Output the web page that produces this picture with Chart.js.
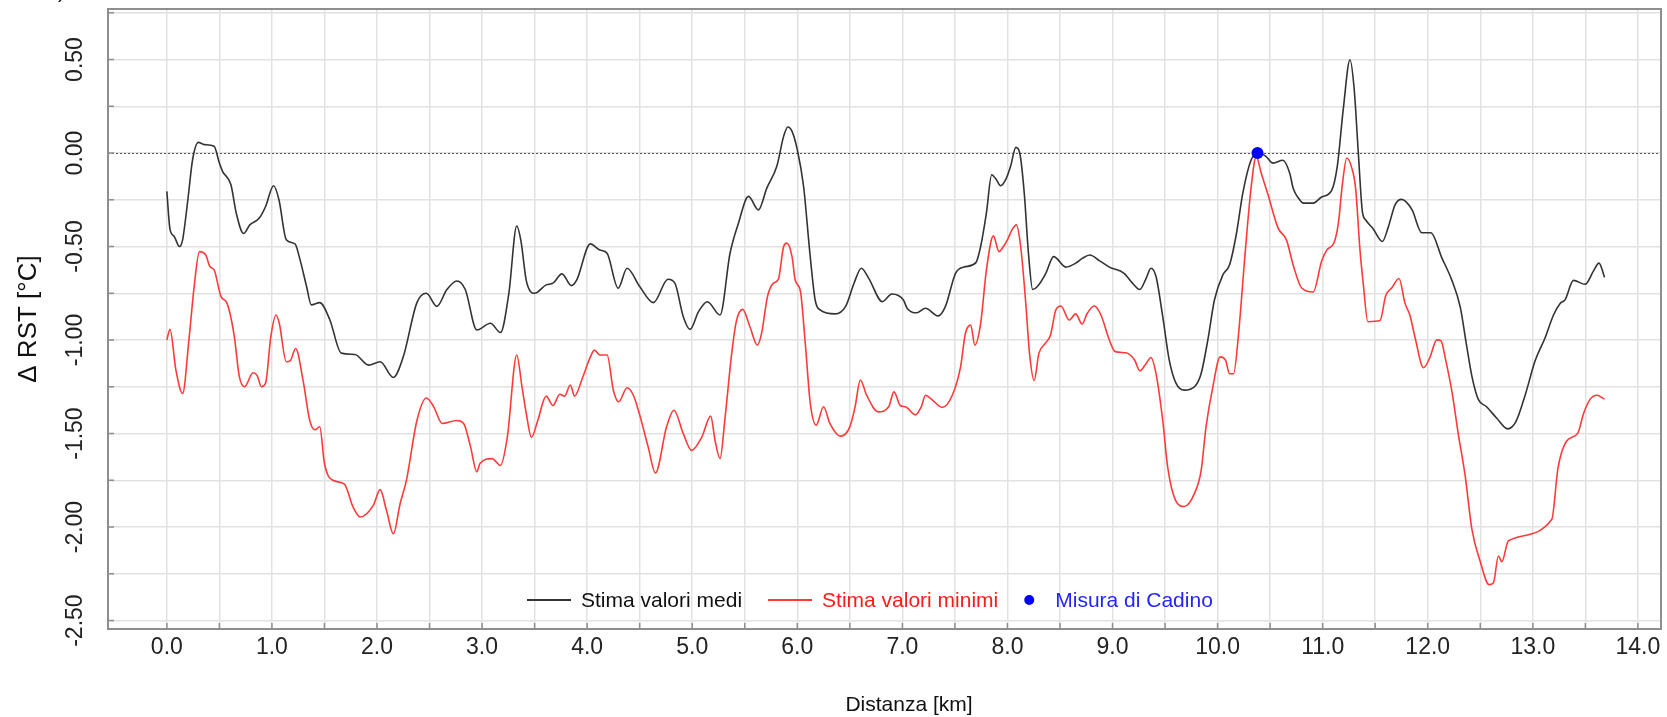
<!DOCTYPE html>
<html>
<head>
<meta charset="utf-8">
<script src="https://cdn.jsdelivr.net/npm/chart.js@4.4.0/dist/chart.umd.min.js"></script>
<style>
  html, body { margin: 0; padding: 0; background: #fff; }
  #wrap { width: 1667px; height: 717px; }
</style>
</head>
<body>
<div id="wrap"><canvas id="chart" width="1667" height="717"></canvas></div>
<script>
// distanza (km) / delta RST (°C)
const kmMedi = [
  0.00, 0.03, 0.07, 0.12, 0.15, 0.20, 0.245, 0.30, 0.357, 0.45, 0.50, 0.53, 0.61, 0.66, 0.73, 0.79, 0.88, 0.94,
  1.016, 1.067, 1.137, 1.22, 1.26, 1.33, 1.375, 1.455, 1.55, 1.66, 1.79, 1.92, 2.03, 2.156, 2.25, 2.38, 2.47,
  2.57, 2.665, 2.76, 2.84, 2.95, 3.08, 3.175, 3.255, 3.33, 3.37, 3.42, 3.46, 3.50, 3.61, 3.675, 3.76, 3.85,
  3.90, 4.03, 4.12, 4.19, 4.295, 4.38, 4.50, 4.63, 4.77, 4.835, 4.915, 4.98, 5.06, 5.144, 5.265, 5.36, 5.44,
  5.535, 5.63, 5.71, 5.805, 5.87, 5.91, 5.95, 6.00, 6.06, 6.12, 6.17, 6.22, 6.36, 6.46, 6.54, 6.61, 6.68, 6.81,
  6.90, 7.01, 7.045, 7.14, 7.22, 7.34, 7.41, 7.506, 7.586, 7.70, 7.745, 7.80, 7.85, 7.89, 7.935, 7.99, 8.03,
  8.08, 8.117, 8.16, 8.20, 8.24, 8.285, 8.365, 8.44, 8.556, 8.65, 8.715, 8.785, 8.874, 8.97, 9.11, 9.19, 9.26,
  9.32, 9.366, 9.414, 9.478, 9.54, 9.605, 9.684, 9.78, 9.843, 9.907, 9.97, 10.05, 10.114, 10.18, 10.24, 10.32,
  10.384, 10.46, 10.527, 10.62, 10.686, 10.72, 10.775, 10.816, 10.91, 10.99, 11.086, 11.14, 11.197, 11.26,
  11.30, 11.34, 11.378, 11.41, 11.48, 11.568, 11.625, 11.69, 11.75, 11.85, 11.943, 12.03, 12.133, 12.23,
  12.31, 12.37, 12.42, 12.48, 12.56, 12.657, 12.76, 12.838, 12.927, 13.022, 13.117, 13.197, 13.26, 13.308,
  13.387, 13.498, 13.578, 13.63, 13.683
];
const rstMedi = [
  -0.205, -0.407, -0.446, -0.50, -0.464, -0.25, -0.036, 0.057, 0.045, 0.036, -0.054, -0.098, -0.17, -0.32, -0.43, -0.384, -0.348, -0.286,
  -0.175, -0.25, -0.464, -0.486, -0.554, -0.714, -0.812, -0.80, -0.89, -1.07, -1.077, -1.134, -1.116, -1.20, -1.09, -0.80, -0.75,
  -0.82, -0.73, -0.684, -0.73, -0.946, -0.91, -0.96, -0.75, -0.39, -0.47, -0.68, -0.74, -0.75, -0.705, -0.696, -0.646, -0.709,
  -0.68, -0.486, -0.518, -0.536, -0.723, -0.616, -0.714, -0.80, -0.675, -0.696, -0.875, -0.943, -0.848, -0.795, -0.866, -0.536, -0.375,
  -0.232, -0.304, -0.188, -0.071, 0.089, 0.139, 0.116, 0.018, -0.179, -0.536, -0.786, -0.84, -0.86, -0.82, -0.696, -0.616, -0.67, -0.795,
  -0.754, -0.786, -0.83, -0.854, -0.83, -0.871, -0.82, -0.643, -0.61, -0.586, -0.50, -0.32, -0.116, -0.139, -0.175, -0.134, -0.071,
  0.030, 0.0, -0.214, -0.536, -0.73, -0.714, -0.643, -0.554, -0.61, -0.589, -0.562, -0.545, -0.575, -0.61, -0.643, -0.696, -0.73,
  -0.67, -0.616, -0.66, -0.875, -1.107, -1.232, -1.268, -1.25, -1.18, -1.0, -0.786, -0.652, -0.598, -0.429, -0.214, -0.036,
  0.0, -0.018, -0.054, -0.039, -0.107, -0.19, -0.245, -0.268, -0.268, -0.235, -0.20, -0.068, 0.239, 0.499,
  0.342, -0.006, -0.313, -0.358, -0.405, -0.473, -0.395, -0.276, -0.248, -0.303, -0.426, -0.426, -0.559, -0.681,
  -0.825, -1.03, -1.193, -1.316, -1.357, -1.418, -1.475, -1.438, -1.295, -1.111, -0.988, -0.866, -0.804, -0.784,
  -0.681, -0.702, -0.63, -0.589, -0.665
];
const kmMinimi = [
  0.00, 0.03, 0.086, 0.15, 0.21, 0.26, 0.31, 0.37, 0.41, 0.45, 0.516, 0.57, 0.64, 0.69, 0.74, 0.82, 0.86, 0.90, 0.94,
  0.99, 1.04, 1.07, 1.137, 1.175, 1.226, 1.296, 1.36, 1.41, 1.455, 1.50, 1.58, 1.69, 1.77, 1.84, 1.965, 2.03, 2.09,
  2.156, 2.22, 2.28, 2.38, 2.47, 2.54, 2.62, 2.76, 2.825, 2.89, 2.95, 2.98, 3.095, 3.175, 3.24, 3.33, 3.38, 3.42,
  3.47, 3.53, 3.61, 3.675, 3.74, 3.786, 3.84, 3.88, 3.96, 4.025, 4.07, 4.12, 4.19, 4.25, 4.30, 4.38, 4.44, 4.50,
  4.58, 4.65, 4.756, 4.826, 4.915, 4.995, 5.09, 5.176, 5.217, 5.265, 5.31, 5.376, 5.42, 5.48, 5.55, 5.62, 5.66,
  5.716, 5.773, 5.82, 5.87, 5.90, 5.95, 5.98, 6.03, 6.076, 6.124, 6.18, 6.25, 6.31, 6.41, 6.50, 6.55, 6.60, 6.66,
  6.77, 6.87, 6.92, 6.98, 7.03, 7.125, 7.18, 7.22, 7.284, 7.38, 7.475, 7.554, 7.60, 7.65, 7.69, 7.745, 7.80,
  7.866, 7.92, 7.95, 8.0, 8.047, 8.085, 8.126, 8.174, 8.21, 8.254, 8.30, 8.36, 8.41, 8.46, 8.51, 8.587, 8.65,
  8.71, 8.76, 8.826, 8.89, 8.97, 9.026, 9.128, 9.21, 9.26, 9.31, 9.366, 9.414, 9.478, 9.525, 9.60, 9.684, 9.78,
  9.843, 9.89, 9.955, 10.025, 10.075, 10.114, 10.152, 10.20, 10.257, 10.32, 10.368, 10.415, 10.48, 10.575,
  10.657, 10.72, 10.80, 10.91, 10.99, 11.04, 11.11, 11.15, 11.187, 11.23, 11.276, 11.314, 11.355, 11.387, 11.43,
  11.546, 11.60, 11.657, 11.727, 11.784, 11.83, 11.88, 11.96, 12.022, 12.086, 12.127, 12.165, 12.23, 12.29,
  12.356, 12.42, 12.50, 12.584, 12.625, 12.673, 12.705, 12.768, 13.18, 13.24, 13.32, 13.43, 13.48, 13.546,
  13.61, 13.683
];
const rstMinimi = [
  -1.0, -0.943, -1.16, -1.286, -1.0, -0.714, -0.527, -0.545, -0.607, -0.625, -0.768, -0.80, -0.973, -1.196, -1.25, -1.175, -1.19, -1.25, -1.23,
  -0.98, -0.866, -0.91, -1.116, -1.11, -1.045, -1.214, -1.43, -1.48, -1.464, -1.66, -1.75, -1.77, -1.89, -1.946, -1.884, -1.80, -1.91,
  -2.036, -1.875, -1.75, -1.43, -1.31, -1.357, -1.446, -1.43, -1.446, -1.57, -1.705, -1.66, -1.634, -1.67, -1.52, -1.08, -1.25, -1.39,
  -1.52, -1.43, -1.30, -1.35, -1.29, -1.30, -1.24, -1.30, -1.196, -1.098, -1.054, -1.08, -1.08, -1.27, -1.33, -1.255, -1.295, -1.40,
  -1.57, -1.71, -1.464, -1.375, -1.50, -1.59, -1.52, -1.407, -1.536, -1.634, -1.43, -1.07, -0.90, -0.836, -0.93, -1.027, -0.964,
  -0.768, -0.696, -0.675, -0.50, -0.482, -0.554, -0.679, -0.74, -1.018, -1.34, -1.455, -1.357, -1.446, -1.514, -1.464, -1.357, -1.214, -1.295,
  -1.384, -1.357, -1.277, -1.35, -1.357, -1.40, -1.357, -1.295, -1.32, -1.36, -1.295, -1.143, -0.964, -0.92, -1.027, -0.911, -0.625,
  -0.443, -0.527, -0.509, -0.464, -0.407, -0.384, -0.50, -0.80, -1.07, -1.216, -1.07, -1.018, -0.973, -0.84, -0.818, -0.893, -0.86,
  -0.914, -0.857, -0.818, -0.866, -1.0, -1.062, -1.068, -1.107, -1.164, -1.134, -1.093, -1.18, -1.43, -1.68, -1.857, -1.89, -1.82,
  -1.70, -1.464, -1.25, -1.09, -1.107, -1.18, -1.18, -0.964, -0.571, -0.179, -0.018, -0.107, -0.223, -0.40,
  -0.467, -0.60, -0.722, -0.743, -0.579, -0.518, -0.477, -0.374, -0.17, -0.027, -0.078, -0.19, -0.518, -0.702, -0.902,
  -0.896, -0.763, -0.722, -0.671, -0.804, -0.866, -0.988, -1.148, -1.091, -0.999, -1.005, -1.091, -1.275, -1.50,
  -1.725, -2.011, -2.185, -2.308, -2.298, -2.155, -2.185, -2.073, -1.96, -1.684, -1.541, -1.496, -1.398, -1.316,
  -1.295, -1.316
];
const kmCadino = [10.38];
const rstCadino = [0.0];

// grid / tick positions
const xTickValues = [0.0, 0.5, 1.0, 1.5, 2.0, 2.5, 3.0, 3.5, 4.0, 4.5, 5.0, 5.5, 6.0, 6.5, 7.0, 7.5, 8.0, 8.5, 9.0, 9.5, 10.0, 10.5, 11.0, 11.5, 12.0, 12.5, 13.0, 13.5, 14.0];
const yTickValues = [-2.5, -2.25, -2.0, -1.75, -1.5, -1.25, -1.0, -0.75, -0.5, -0.25, 0.0, 0.25, 0.5, 0.75];

const FONT = '"Liberation Sans", Arial, Helvetica, sans-serif';
const FRAME = '#8e8e8e';

function toPoints(xs, ys) {
    return xs.map((x, i) => ({ x: x, y: ys[i] }));
}

// frame, inner ticks, rotated y labels, titles, legend
const decorations = {
    id: 'decorations',
    beforeDatasetsDraw(chart) {
        const { ctx, chartArea: a, scales: { y } } = chart;
        const y0 = Math.round(y.getPixelForValue(0)) + 0.5;
        ctx.save();
        ctx.strokeStyle = '#555';
        ctx.lineWidth = 1;
        ctx.setLineDash([2, 2]);
        ctx.beginPath();
        ctx.moveTo(a.left, y0);
        ctx.lineTo(a.right, y0);
        ctx.stroke();
        ctx.restore();
    },
    afterDraw(chart) {
        const { ctx, chartArea: a, scales: { x, y } } = chart;
        ctx.save();

        // frame
        ctx.strokeStyle = FRAME;
        ctx.lineWidth = 2;
        ctx.strokeRect(a.left, a.top, a.right - a.left, a.bottom - a.top);

        // inner tick marks
        ctx.lineWidth = 1.5;
        ctx.beginPath();
        yTickValues.forEach(v => {
            const py = y.getPixelForValue(v);
            ctx.moveTo(a.left, py);
            ctx.lineTo(a.left + 6, py);
        });
        xTickValues.forEach(v => {
            const px = x.getPixelForValue(v);
            ctx.moveTo(px, a.bottom);
            ctx.lineTo(px, a.bottom - 6);
        });
        ctx.stroke();

        // rotated y labels
        ctx.fillStyle = '#222';
        ctx.font = '23px ' + FONT;
        ctx.textAlign = 'center';
        ctx.textBaseline = 'middle';
        yTickValues.forEach(v => {
            if (Math.abs(v * 2 - Math.round(v * 2)) > 1e-6) return;
            ctx.save();
            ctx.translate(76, y.getPixelForValue(v));
            ctx.rotate(-Math.PI / 2);
            ctx.fillText(v.toFixed(2), 0, 0);
            ctx.restore();
        });

        // axis titles
        ctx.fillStyle = '#111';
        ctx.font = '26px ' + FONT;
        ctx.save();
        ctx.translate(29, (a.top + a.bottom) / 2);
        ctx.rotate(-Math.PI / 2);
        ctx.fillText('\u0394 RST [\u00b0C]', 0, 0);
        ctx.restore();
        ctx.font = '21px ' + FONT;
        ctx.fillText('Distanza [km]', 909, 705);

        // cut-off title remnant at the very top
        ctx.textAlign = 'left';
        ctx.textBaseline = 'alphabetic';
        ctx.fillText(')', 58, -2);

        // legend
        let lx = 527;
        const ly = 600;
        ctx.font = '21px ' + FONT;
        ctx.textBaseline = 'middle';
        chart.data.datasets.forEach(ds => {
            if (ds.showLine === false) {
                ctx.fillStyle = ds.backgroundColor;
                ctx.beginPath();
                ctx.arc(lx + 5, ly, 5, 0, Math.PI * 2);
                ctx.fill();
                lx += 31;
            } else {
                ctx.strokeStyle = ds.borderColor;
                ctx.lineWidth = 2;
                ctx.beginPath();
                ctx.moveTo(lx, ly);
                ctx.lineTo(lx + 44, ly);
                ctx.stroke();
                lx += 54;
            }
            ctx.fillStyle = ds.legendText;
            ctx.fillText(ds.label, lx, ly + 1);
            lx += ctx.measureText(ds.label).width + 26;
        });

        ctx.restore();
    }
};

new Chart(document.getElementById('chart'), {
    type: 'line',
    data: {
        datasets: [{
            label: 'Stima valori medi',
            data: toPoints(kmMedi, rstMedi),
            borderColor: '#333333',
            legendText: '#111',
            borderWidth: 1.6,
            pointRadius: 0,
            cubicInterpolationMode: 'monotone',
            order: 3
        }, {
            label: 'Stima valori minimi',
            data: toPoints(kmMinimi, rstMinimi),
            borderColor: '#ff3a3a',
            legendText: '#ff1a1a',
            borderWidth: 1.6,
            pointRadius: 0,
            cubicInterpolationMode: 'monotone',
            order: 2
        }, {
            label: 'Misura di Cadino',
            data: toPoints(kmCadino, rstCadino),
            showLine: false,
            backgroundColor: '#0000ff',
            borderColor: '#0000ff',
            legendText: '#2424ff',
            pointRadius: 6,
            pointBorderWidth: 0,
            order: 1
        }]
    },
    options: {
        responsive: false,
        animation: false,
        devicePixelRatio: 1,
        layout: { padding: { top: 9, right: 4, left: 0, bottom: 0 } },
        plugins: {
            legend: { display: false },
            tooltip: { enabled: false }
        },
        scales: {
            x: {
                type: 'linear',
                min: -0.56,
                max: 14.22,
                afterBuildTicks: s => { s.ticks = xTickValues.map(v => ({ value: v })); },
                afterFit: s => { s.height = 88; },
                border: { display: false },
                grid: { color: '#e2e2e2', lineWidth: 1.5, drawTicks: false },
                ticks: {
                    autoSkip: false,
                    maxRotation: 0,
                    padding: 5,
                    color: '#222',
                    font: { family: FONT, size: 23 },
                    callback: v => Number.isInteger(v) ? v.toFixed(1) : ''
                }
            },
            y: {
                type: 'linear',
                min: -2.545,
                max: 0.77,
                afterBuildTicks: s => { s.ticks = yTickValues.map(v => ({ value: v })); },
                afterFit: s => { s.width = 108; },
                border: { display: false },
                grid: { color: '#e2e2e2', lineWidth: 1.5, drawTicks: false },
                ticks: { display: false }
            }
        }
    },
    plugins: [decorations]
});
</script>
</body>
</html>
